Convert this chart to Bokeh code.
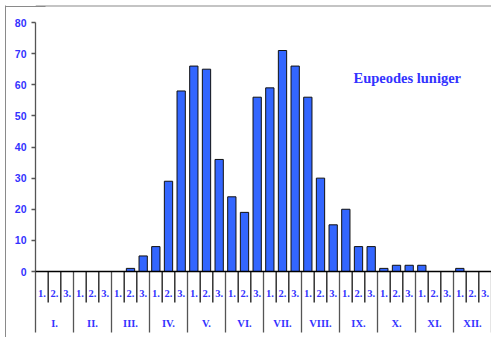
from bokeh.plotting import figure
from bokeh.models import LinearAxis, FixedTicker, Span, ColumnDataSource, Range1d, Label, BoxAnnotation
from bokeh.embed import file_html
from bokeh.resources import INLINE
from bokeh.core.properties import value

# ---- data ----
species = "Eupeodes luniger"
months = ["I.", "II.", "III.", "IV.", "V.", "VI.", "VII.", "VIII.", "IX.", "X.", "XI.", "XII."]
decades = ["1.", "2.", "3."]
counts = [0, 0, 0,
          0, 0, 0,
          0, 1, 5,
          8, 29, 58,
          66, 65, 36,
          24, 19, 56,
          59, 71, 66,
          56, 30, 15,
          20, 8, 8,
          1, 2, 2,
          2, 0, 0,
          1, 0, 0]
y_ticks = [0, 10, 20, 30, 40, 50, 60, 70, 80]

# ---- layout constants (pixels) ----
W, H = 491, 337
LEFT = 35          # y axis position in canvas
TOP80 = 22         # canvas y of value 80
BASE = 271         # canvas y of value 0
PX_PER_UNIT = (BASE - TOP80) / 80.0
y_start = -(H - BASE) / PX_PER_UNIT
y_end = 80 + TOP80 / PX_PER_UNIT
y_frame_top = y_end - 5.5 / PX_PER_UNIT   # outer frame top line

BLUE = "#3333ff"
BAR = "#3366ff"
FRAME_GRAY = "#8a8a8a"

n = len(months) * len(decades)
SLOT = (W - LEFT) / n

p = figure(width=W, height=H, x_range=Range1d(0, n), y_range=Range1d(y_start, y_end),
           output_backend="svg", toolbar_location=None,
           x_axis_type=None, y_axis_type=None,
           min_border_left=LEFT, min_border_right=0, min_border_top=0, min_border_bottom=0,
           outline_line_color=None, background_fill_color="white")

# y axis
yaxis = LinearAxis(ticker=FixedTicker(ticks=y_ticks, minor_ticks=[]),
                   bounds=(-61 / PX_PER_UNIT, 80))
yaxis.axis_line_color = "#555555"
yaxis.axis_line_width = 1.3
yaxis.major_tick_line_color = "#555555"
yaxis.major_tick_line_width = 1.3
yaxis.major_tick_out = 4
yaxis.major_tick_in = 0
yaxis.minor_tick_out = 0
yaxis.minor_tick_in = 0
yaxis.major_label_standoff = 5
yaxis.major_label_text_color = BLUE
yaxis.major_label_text_font = "Liberation Sans"
yaxis.major_label_text_font_style = "bold"
yaxis.major_label_text_font_size = "10.5px"
yaxis.axis_label = " "
yaxis.axis_label_standoff = 0
yaxis.axis_label_text_font_size = "3px"
p.add_layout(yaxis, "left")

# outer frame: an axis line on the far left, with one long inward tick as the top line
frame_axis = LinearAxis(ticker=FixedTicker(ticks=[y_frame_top], minor_ticks=[]),
                        bounds=(y_start, y_frame_top + 0.3))
frame_axis.axis_line_color = FRAME_GRAY
frame_axis.axis_line_width = 1
frame_axis.major_tick_line_color = FRAME_GRAY
frame_axis.major_tick_line_width = 1
frame_axis.major_tick_in = 40
frame_axis.major_tick_out = 0
frame_axis.minor_tick_in = 0
frame_axis.minor_tick_out = 0
frame_axis.major_label_standoff = 0
frame_axis.major_label_overrides = {y_frame_top: ""}
frame_axis.major_label_text_font_size = "1px"
p.add_layout(frame_axis, "left")

# top frame line inside the plot area
p.add_layout(BoxAnnotation(left=0, right=W, top=H - 5, bottom=H - 6,
                           left_units="screen", right_units="screen",
                           top_units="screen", bottom_units="screen",
                           fill_color=FRAME_GRAY, fill_alpha=1, line_color=None))

# bars
src = ColumnDataSource(dict(x=[i + 0.5 for i in range(n)], top=counts))
p.vbar(x="x", top="top", bottom=0, width=0.655, source=src,
       fill_color=BAR, line_color="#111111", line_width=1)

# baseline
p.add_layout(Span(location=0, dimension="width", line_color="black", line_width=1.3))

# x separators
short_x = [k for k in range(1, n + 1) if k % 3 != 0]
long_x = [k for k in range(1, n + 1) if k % 3 == 0]
p.segment(x0=short_x, x1=short_x, y0=[0] * len(short_x), y1=[-31 / PX_PER_UNIT] * len(short_x),
          line_color="black", line_width=1.2)
p.segment(x0=long_x, x1=long_x, y0=[0] * len(long_x), y1=[-61 / PX_PER_UNIT] * len(long_x),
          line_color="#555555", line_width=1.3)

# decade labels
dec_x = [i + 0.5 for i in range(n)]
dec_t = [decades[i % 3] for i in range(n)]
p.text(x=dec_x, y=[-22 / PX_PER_UNIT] * n, text=dec_t,
       text_align="center", text_baseline="middle",
       text_font=value("Liberation Serif"), text_font_style="bold",
       text_font_size="10.5px", text_color=BLUE)

# month labels
mon_x = [3 * m + 1.5 for m in range(len(months))]
p.text(x=mon_x, y=[-52 / PX_PER_UNIT] * len(months), text=months,
       text_align="center", text_baseline="middle",
       text_font=value("Liberation Serif"), text_font_style="bold",
       text_font_size="10.5px", text_color=BLUE)

# species title
p.add_layout(Label(x=(353 - LEFT) / SLOT, y=(BASE - 77) / PX_PER_UNIT, text=species,
                   text_align="left", text_baseline="alphabetic",
                   text_font="Liberation Serif", text_font_style="bold",
                   text_font_size="14.5px", text_color=BLUE))

open("out.html", "w").write(file_html(p, INLINE))
